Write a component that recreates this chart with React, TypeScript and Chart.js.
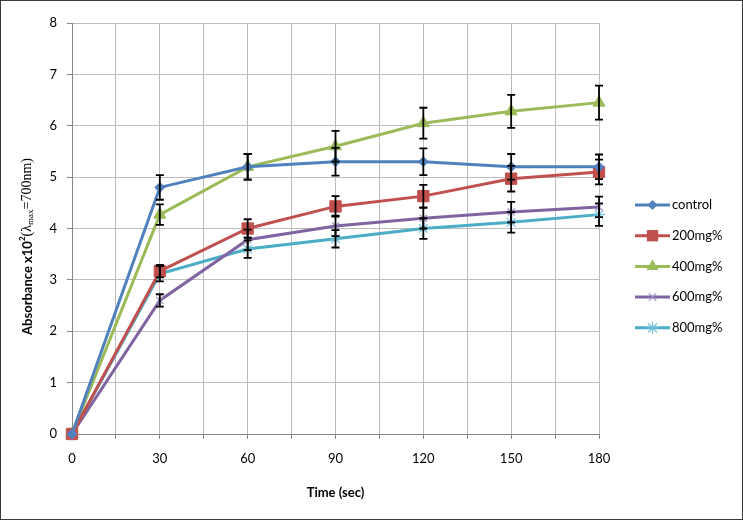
import React, { useEffect, useRef } from 'react';
import Chart from 'chart.js/auto';

const TIMES = [0, 30, 60, 90, 120, 150, 180];
const SERIES_NAMES = ['control', '200mg%', '400mg%', '600mg%', '800mg%'];
const CONTROL = [0, 4.8, 5.2, 5.3, 5.3, 5.2, 5.2];
const MG200 = [0, 3.17, 4.0, 4.43, 4.63, 4.97, 5.1];
const MG400 = [0, 4.27, 5.2, 5.6, 6.05, 6.28, 6.45];
const MG600 = [0, 2.6, 3.78, 4.05, 4.2, 4.32, 4.42];
const MG800 = [0, 3.12, 3.6, 3.8, 4.0, 4.12, 4.27];
const ERR_CONTROL = [0, 0.24, 0.25, 0.27, 0.26, 0.25, 0.24];
const ERR_200 = [0, 0.12, 0.18, 0.2, 0.22, 0.25, 0.24];
const ERR_400 = [0, 0.2, 0.25, 0.3, 0.3, 0.32, 0.33];
const ERR_600 = [0, 0.12, 0.2, 0.2, 0.2, 0.2, 0.2];
const ERR_800 = [0, 0.15, 0.17, 0.17, 0.2, 0.2, 0.22];
const Y_TITLE_PARTS = [
  { text: 'Absorbance x10', kind: 'bold' },
  { text: '2', kind: 'sup' },
  { text: '(λ', kind: 'serif' },
  { text: 'max', kind: 'sub' },
  { text: '=700nm)', kind: 'serif' },
];
const X_TITLE = 'Time (sec)';

const VALUES = [CONTROL, MG200, MG400, MG600, MG800];
const ERRORS = [ERR_CONTROL, ERR_200, ERR_400, ERR_600, ERR_800];
const COLORS = ['#4F81BD', '#C0504D', '#9BBB59', '#8064A2', '#4BACC6'];
const POINT_STYLES = ['rectRot', 'rect', 'triangle', 'crossRot', 'star'];
const POINT_RADII = [5, 8, 7, 5, 6];
const POINT_BORDERS = ['#4F81BD', '#C0504D', '#9BBB59', '#9D8FC6', '#6FC0DA'];

const FONT = 'Lato, "Open Sans", "DejaVu Sans", sans-serif';
const SERIF = '"Liberation Serif", "DejaVu Serif", serif';

const errorBarPlugin = {
  id: 'errorBars',
  afterDatasetsDraw(chart: any) {
    const { ctx, scales } = chart;
    const x = scales.x;
    const y = scales.y;
    ctx.save();
    ctx.strokeStyle = '#000';
    ctx.lineWidth = 1.8;
    VALUES.forEach((vals, i) => {
      vals.forEach((v, j) => {
        const e = ERRORS[i][j];
        if (!e) return;
        const px = x.getPixelForValue(TIMES[j]);
        const t = y.getPixelForValue(v + e);
        const b = y.getPixelForValue(v - e);
        ctx.beginPath();
        ctx.moveTo(px, t);
        ctx.lineTo(px, b);
        ctx.moveTo(px - 4, t);
        ctx.lineTo(px + 4, t);
        ctx.moveTo(px - 4, b);
        ctx.lineTo(px + 4, b);
        ctx.stroke();
      });
    });
    ctx.restore();
  },
};

const yTitlePlugin = {
  id: 'yTitle',
  afterDraw(chart: any) {
    const { ctx, chartArea } = chart;
    const fonts: Record<string, string> = {
      bold: `bold 13px ${FONT}`,
      sup: `bold 8px ${FONT}`,
      serif: `14px ${SERIF}`,
      sub: `9px ${SERIF}`,
    };
    const offs: Record<string, number> = { bold: 0, sup: -5, serif: 0, sub: 3 };
    ctx.save();
    let total = 0;
    const widths = Y_TITLE_PARTS.map((p) => {
      ctx.font = fonts[p.kind];
      const w = ctx.measureText(p.text).width;
      total += w;
      return w;
    });
    const cy = (chartArea.top + chartArea.bottom) / 2 + 18;
    ctx.translate(26.5, cy);
    ctx.rotate(-Math.PI / 2);
    ctx.fillStyle = '#000';
    ctx.textBaseline = 'middle';
    ctx.textAlign = 'left';
    let xx = -total / 2;
    Y_TITLE_PARTS.forEach((p, i) => {
      ctx.font = fonts[p.kind];
      ctx.fillText(p.text, xx, offs[p.kind]);
      xx += widths[i];
    });
    ctx.restore();
  },
};

function drawMarker(ctx: CanvasRenderingContext2D, style: string, x: number, y: number, r: number, fill: string, stroke: string) {
  ctx.save();
  ctx.fillStyle = fill;
  ctx.strokeStyle = stroke;
  ctx.lineWidth = 1.2;
  ctx.beginPath();
  if (style === 'rectRot') {
    ctx.moveTo(x, y - r);
    ctx.lineTo(x + r, y);
    ctx.lineTo(x, y + r);
    ctx.lineTo(x - r, y);
    ctx.closePath();
    ctx.fill();
  } else if (style === 'rect') {
    const s = r * Math.SQRT1_2;
    ctx.rect(x - s, y - s, 2 * s, 2 * s);
    ctx.fill();
  } else if (style === 'triangle') {
    ctx.moveTo(x, y - r);
    ctx.lineTo(x + r * 0.87, y + r * 0.5);
    ctx.lineTo(x - r * 0.87, y + r * 0.5);
    ctx.closePath();
    ctx.fill();
  } else if (style === 'crossRot') {
    const s = r * 0.75;
    ctx.moveTo(x - s, y - s);
    ctx.lineTo(x + s, y + s);
    ctx.moveTo(x + s, y - s);
    ctx.lineTo(x - s, y + s);
    ctx.stroke();
  } else {
    const s = r * 0.75;
    ctx.moveTo(x - s, y - s);
    ctx.lineTo(x + s, y + s);
    ctx.moveTo(x + s, y - s);
    ctx.lineTo(x - s, y + s);
    ctx.moveTo(x, y - r);
    ctx.lineTo(x, y + r);
    ctx.moveTo(x - r, y);
    ctx.lineTo(x + r, y);
    ctx.stroke();
  }
  ctx.restore();
}

const legendPlugin = {
  id: 'sideLegend',
  afterDraw(chart: any) {
    const { ctx, chartArea } = chart;
    const x0 = chartArea.right + 36;
    const startY = 204;
    const gap = 30.7;
    ctx.save();
    SERIES_NAMES.forEach((name, i) => {
      const yy = startY + i * gap;
      ctx.strokeStyle = COLORS[i];
      ctx.lineWidth = 3;
      ctx.beginPath();
      ctx.moveTo(x0, yy);
      ctx.lineTo(x0 + 35, yy);
      ctx.stroke();
      drawMarker(ctx, POINT_STYLES[i], x0 + 17.5, yy, POINT_RADII[i], COLORS[i], POINT_BORDERS[i]);
      ctx.fillStyle = '#000';
      ctx.font = `13px ${FONT}`;
      ctx.textBaseline = 'middle';
      ctx.textAlign = 'left';
      ctx.fillText(name, x0 + 37, yy);
    });
    ctx.restore();
  },
};

export default function App() {
  const ref = useRef<HTMLCanvasElement | null>(null);
  useEffect(() => {
    if (!ref.current) return;
    const datasets = SERIES_NAMES.map((name, i) => ({
      label: name,
      data: TIMES.map((t, j) => ({ x: t, y: VALUES[i][j] })),
      borderColor: COLORS[i],
      backgroundColor: COLORS[i],
      borderWidth: 3,
      pointStyle: POINT_STYLES[i],
      pointRadius: POINT_RADII[i],
      pointBorderColor: POINT_BORDERS[i],
      pointBackgroundColor: COLORS[i],
      pointBorderWidth: i >= 3 ? 1.2 : 1,
      tension: 0,
      clip: false,
    }));
    const chart = new Chart(ref.current, {
      type: 'line',
      data: { datasets },
      plugins: [errorBarPlugin, legendPlugin, yTitlePlugin],
      options: {
        animation: false,
        responsive: true,
        maintainAspectRatio: false,
        layout: { padding: { top: 22, right: 143, bottom: 0, left: 0 } },
        plugins: { legend: { display: false }, tooltip: { enabled: false } },
        scales: {
          x: {
            type: 'linear',
            min: 0,
            max: 180,
            afterFit: (s: any) => { s.height = 85; },
            ticks: {
              stepSize: 15,
              autoSkip: false,
              maxRotation: 0,
              padding: 12,
              color: '#000',
              font: { family: FONT, size: 13 },
              callback: (v: any) => (Number(v) % 30 === 0 ? String(v) : ''),
            },
            grid: { color: '#BDBDBD', lineWidth: 1, tickLength: 5, tickColor: '#868686' },
            border: { color: '#868686', width: 1 },
            title: {
              display: true,
              text: X_TITLE,
              color: '#000',
              font: { family: FONT, size: 13, weight: 'bold' },
              padding: { top: 0, bottom: 18 },
            },
          },
          y: {
            min: 0,
            max: 8,
            afterFit: (s: any) => { s.width = 71; },
            ticks: {
              stepSize: 1,
              padding: 10,
              color: '#000',
              font: { family: FONT, size: 13 },
            },
            grid: { color: '#BDBDBD', lineWidth: 1, tickLength: 5, tickColor: '#868686' },
            border: { color: '#868686', width: 1 },
            title: { display: false },
          },
        },
      } as any,
    });
    return () => chart.destroy();
  }, []);
  return (
    <div
      style={{
        position: 'fixed',
        left: 0,
        top: 0,
        width: 743,
        height: 520,
        boxSizing: 'border-box',
        border: '1px solid #3a3a3a',
        background: '#fff',
      }}
    >
      <canvas ref={ref} />
    </div>
  );
}
